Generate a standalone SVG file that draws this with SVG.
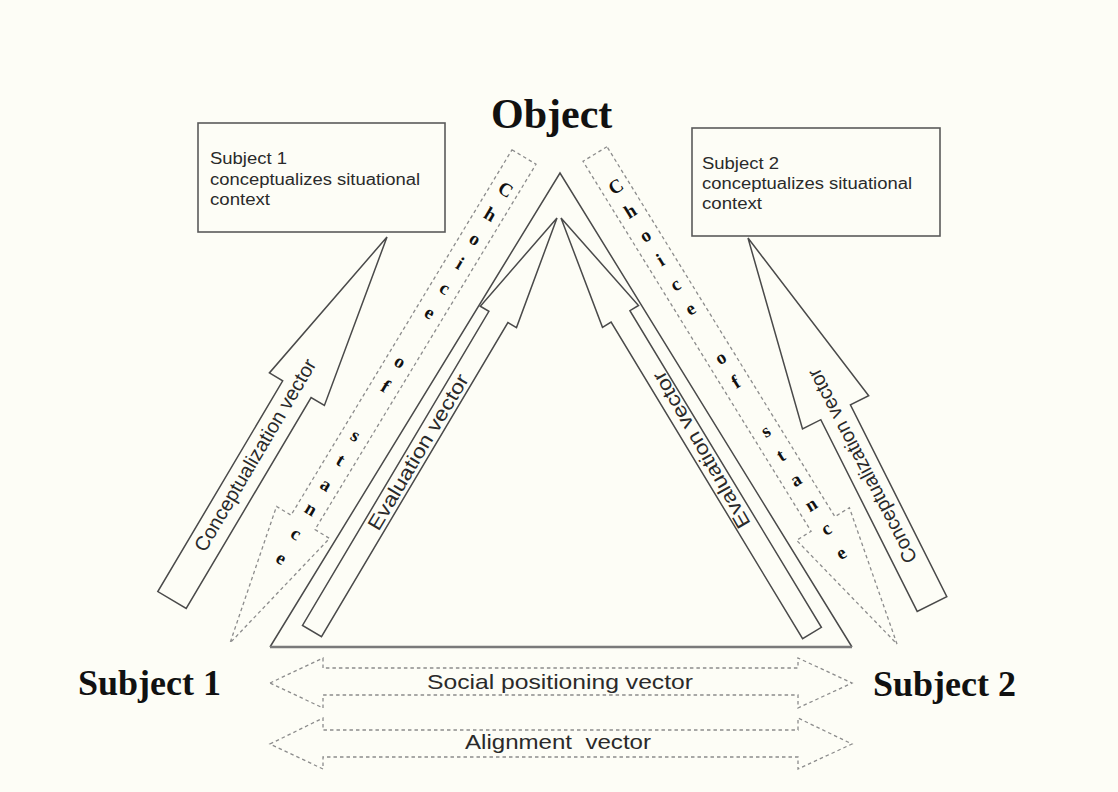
<svg xmlns="http://www.w3.org/2000/svg" width="1118" height="792" viewBox="0 0 1118 792">
<style>
.bg{fill:#fdfdf6}
.solid{fill:none;stroke:#4a4a4a;stroke-width:1.5;stroke-linejoin:miter}
.dash{fill:none;stroke:#8c8c8c;stroke-width:1.3;stroke-dasharray:3.5 3}
.box{fill:#fdfdf6;stroke:#5a5a5a;stroke-width:1.6}
.big{font-family:"Liberation Serif","Times New Roman",serif;font-weight:bold;fill:#111}
.lbl{font-family:"Liberation Sans",Arial,sans-serif;fill:#2a2a2a}
.ch{font-family:"Liberation Serif","Times New Roman",serif;font-weight:bold;font-size:19px;fill:#111;text-anchor:middle}
</style>
<rect class="bg" x="0" y="0" width="1118" height="792"/>

<g id="connectors">
  <!-- main triangle -->
  <polyline class="solid" points="270,647 560,173 852,647"/>
  <line x1="270" y1="647" x2="852" y2="647" stroke="#7a7a7a" stroke-width="2.4"/>
  <!-- evaluation vectors -->
  <polygon id="eval-left" class="solid" points="557,218 480.3,306.2 488.9,311.3 302.5,625.4 321.5,636.6 507.9,322.5 516.5,327.6"/>
  <polygon id="eval-right" class="solid" points="561,218 638.5,305.5 629.9,310.7 821.4,627.3 802.6,638.7 611.1,322.1 602.5,327.3"/>
  <!-- conceptualization vectors -->
  <polygon id="concept-left" class="solid" points="387,237 269.4,372.9 282.7,380.8 157.8,591.6 186.2,608.4 311.1,397.6 324.4,405.5"/>
  <polygon id="concept-right" class="solid" points="748,238 868.7,395.7 850.4,404.9 946.8,596.6 917.2,611.4 820.8,419.7 802.5,428.9"/>
  <!-- choice of stance (dashed) -->
  <polygon id="stance-left" class="dash" points="512,149.8 536,164.2 315,529.6 329.5,538.4 230,643 276.5,506.4 291,515.2"/>
  <polygon id="stance-right" class="dash" points="607,146.7 583,161.3 811.1,531.3 796.6,540.3 897,644 849.4,507.7 834.9,516.7"/>
  <!-- bottom double arrows -->
  <polygon id="social" class="dash" points="270,683 323,658 323,668 798,668 798,658 852,683 798,708 798,695 323,695 323,708"/>
  <polygon id="alignment" class="dash" points="270,744 323,718 323,730 798,730 798,718 852,744 798,769 798,757 323,757 323,769"/>

  <!-- connector labels -->
  <text class="lbl" font-size="20" text-anchor="middle" dy="0.35em" textLength="220" lengthAdjust="spacingAndGlyphs" transform="translate(255 455) rotate(-59.4)">Conceptualization vector</text>
  <text class="lbl" font-size="20" text-anchor="middle" dy="0.35em" textLength="216" lengthAdjust="spacingAndGlyphs" transform="translate(862 466) rotate(-117.3)">Conceptualization vector</text>
  <text class="lbl" font-size="20" text-anchor="middle" dy="0.35em" textLength="178" lengthAdjust="spacingAndGlyphs" transform="translate(418 452) rotate(-59.3)">Evaluation vector</text>
  <text class="lbl" font-size="20" text-anchor="middle" dy="0.35em" textLength="177" lengthAdjust="spacingAndGlyphs" transform="translate(701 450) rotate(-119.7)">Evaluation vector</text>
  <text class="lbl" font-size="21" x="560" y="689" text-anchor="middle" textLength="266" lengthAdjust="spacingAndGlyphs">Social positioning vector</text>
  <text class="lbl" font-size="21" x="558" y="749" text-anchor="middle" textLength="186" lengthAdjust="spacingAndGlyphs" xml:space="preserve">Alignment  vector</text>

  <g id="stance-left-text">
    <text class="ch" transform="translate(505.5 190.0) rotate(31)" y="6">C</text>
    <text class="ch" transform="translate(490.2 214.6) rotate(31)" y="6">h</text>
    <text class="ch" transform="translate(475.0 239.1) rotate(31)" y="6">o</text>
    <text class="ch" transform="translate(459.9 263.7) rotate(31)" y="6">i</text>
    <text class="ch" transform="translate(444.6 288.2) rotate(31)" y="6">c</text>
    <text class="ch" transform="translate(429.7 312.8) rotate(31)" y="6">e</text>
    <text class="ch" transform="translate(400.0 361.9) rotate(31)" y="6">o</text>
    <text class="ch" transform="translate(385.2 386.5) rotate(31)" y="6">f</text>
    <text class="ch" transform="translate(355.5 435.6) rotate(31)" y="6">s</text>
    <text class="ch" transform="translate(340.6 460.1) rotate(31)" y="6">t</text>
    <text class="ch" transform="translate(325.8 484.7) rotate(31)" y="6">a</text>
    <text class="ch" transform="translate(310.9 509.2) rotate(31)" y="6">n</text>
    <text class="ch" transform="translate(296.0 533.8) rotate(31)" y="6">c</text>
    <text class="ch" transform="translate(281.2 558.4) rotate(31)" y="6">e</text>
  </g>
  <g id="stance-right-text">
    <text class="ch" transform="translate(616.0 186.9) rotate(-31.6)" y="6">C</text>
    <text class="ch" transform="translate(630.3 211.3) rotate(-31.6)" y="6">h</text>
    <text class="ch" transform="translate(645.4 235.7) rotate(-31.6)" y="6">o</text>
    <text class="ch" transform="translate(660.4 260.2) rotate(-31.6)" y="6">i</text>
    <text class="ch" transform="translate(675.5 284.6) rotate(-31.6)" y="6">c</text>
    <text class="ch" transform="translate(690.5 309.0) rotate(-31.6)" y="6">e</text>
    <text class="ch" transform="translate(720.7 357.9) rotate(-31.6)" y="6">o</text>
    <text class="ch" transform="translate(735.7 382.3) rotate(-31.6)" y="6">f</text>
    <text class="ch" transform="translate(765.8 431.2) rotate(-31.6)" y="6">s</text>
    <text class="ch" transform="translate(780.9 455.6) rotate(-31.6)" y="6">t</text>
    <text class="ch" transform="translate(796.0 480.0) rotate(-31.6)" y="6">a</text>
    <text class="ch" transform="translate(811.0 504.5) rotate(-31.6)" y="6">n</text>
    <text class="ch" transform="translate(826.1 528.9) rotate(-31.6)" y="6">c</text>
    <text class="ch" transform="translate(841.1 553.3) rotate(-31.6)" y="6">e</text>
  </g>
</g>

<g id="box-subject1">
  <rect class="box" x="198" y="123" width="247" height="109"/>
  <text class="lbl" font-size="16" x="210" y="164" textLength="77" lengthAdjust="spacingAndGlyphs">Subject 1</text>
  <text class="lbl" font-size="16" x="210" y="185" textLength="210" lengthAdjust="spacingAndGlyphs">conceptualizes situational</text>
  <text class="lbl" font-size="16" x="210" y="205" textLength="60" lengthAdjust="spacingAndGlyphs">context</text>
</g>
<g id="box-subject2">
  <rect class="box" x="692" y="128" width="248" height="108"/>
  <text class="lbl" font-size="16" x="702" y="169" textLength="77" lengthAdjust="spacingAndGlyphs">Subject 2</text>
  <text class="lbl" font-size="16" x="702" y="189" textLength="210" lengthAdjust="spacingAndGlyphs">conceptualizes situational</text>
  <text class="lbl" font-size="16" x="702" y="209" textLength="60" lengthAdjust="spacingAndGlyphs">context</text>
</g>
<g id="node-object">
  <text class="big" font-size="42" x="491" y="128">Object</text>
</g>
<g id="node-subject1">
  <text class="big" font-size="36" x="78" y="695">Subject 1</text>
</g>
<g id="node-subject2">
  <text class="big" font-size="36" x="873" y="696">Subject 2</text>
</g>
</svg>
